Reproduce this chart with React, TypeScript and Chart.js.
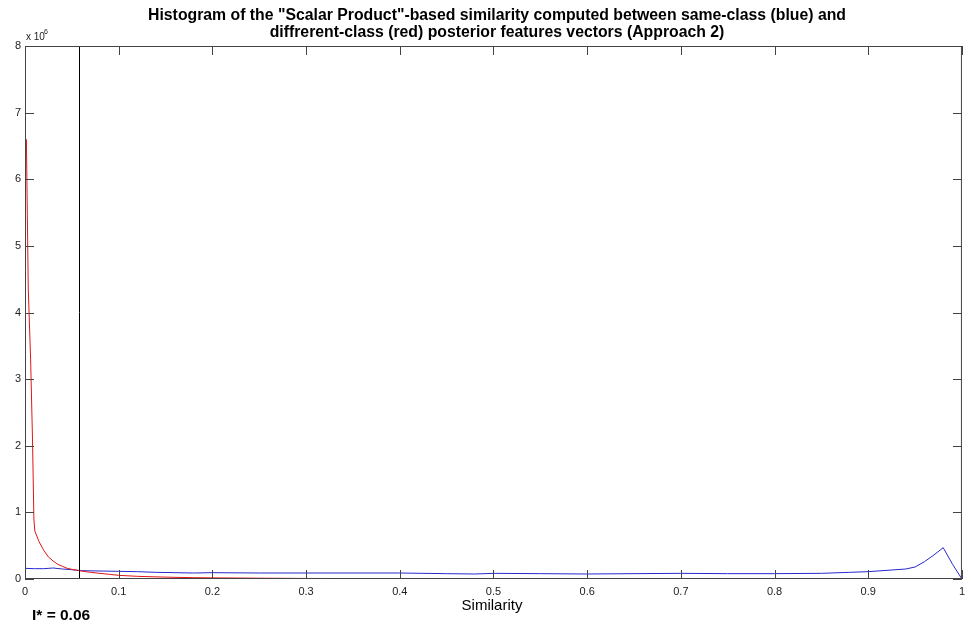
import React, { useEffect, useRef } from "react";
import { Chart, registerables } from "chart.js";

Chart.register(...registerables);

// Similarity bin positions and histogram counts (in units of 10^6)
const diffClassX = [
  0.0015, 0.0025, 0.0035, 0.006, 0.008, 0.0095, 0.0105, 0.015, 0.02, 0.025, 0.03,
  0.035, 0.04, 0.045, 0.05, 0.06, 0.07, 0.08, 0.09, 0.1, 0.12, 0.14, 0.16, 0.18,
  0.2, 0.25, 0.3, 0.4, 0.5, 0.6, 0.7, 0.8, 0.9, 0.95, 1.0,
];
const diffClassCounts = [
  6.6, 5.45, 4.35, 3.3, 2.1, 0.9, 0.72, 0.56, 0.43, 0.33, 0.27, 0.22, 0.19, 0.16,
  0.145, 0.12, 0.1, 0.085, 0.07, 0.055, 0.04, 0.032, 0.025, 0.02, 0.017, 0.012,
  0.008, 0.006, 0.006, 0.005, 0.005, 0.005, 0.005, 0.005, 0.0,
];

const sameClassX = [
  0, 0.01, 0.02, 0.03, 0.04, 0.05, 0.06, 0.08, 0.1, 0.12, 0.14, 0.16, 0.18, 0.2,
  0.25, 0.3, 0.35, 0.4, 0.45, 0.48, 0.5, 0.55, 0.6, 0.65, 0.7, 0.75, 0.8, 0.85,
  0.88, 0.9, 0.92, 0.94, 0.95, 0.96, 0.97, 0.98, 0.99, 1.0,
];
const sameClassCounts = [
  0.16, 0.155, 0.155, 0.165, 0.15, 0.14, 0.125, 0.12, 0.115, 0.11, 0.1, 0.095,
  0.09, 0.095, 0.09, 0.09, 0.09, 0.09, 0.08, 0.075, 0.085, 0.08, 0.075, 0.08,
  0.085, 0.08, 0.08, 0.085, 0.1, 0.11, 0.13, 0.15, 0.18, 0.26, 0.36, 0.47, 0.22,
  0.0,
];

const similarityTicks = [0, 0.1, 0.2, 0.3, 0.4, 0.5, 0.6, 0.7, 0.8, 0.9, 1];
const countTicks = [0, 1, 2, 3, 4, 5, 6, 7, 8];

const THRESHOLD = 0.0575;

const TITLE_LINES = [
  'Histogram of the "Scalar Product"-based similarity computed between same-class (blue) and',
  "diffrerent-class (red) posterior features vectors (Approach 2)",
];
const X_LABEL = "Similarity";

const FONT = "'Liberation Sans', Arial, sans-serif";
const AXIS_COLOR = "#444";
const TICK_LEN = 9;

const fmtTick = (v: number) => Number(v.toFixed(1)).toString();

const decorations = {
  id: "matlabDecorations",
  afterDatasetsDraw(chart: any) {
    const { ctx, chartArea, scales } = chart;
    const x = Math.round(scales.x.getPixelForValue(THRESHOLD)) + 0.5;
    ctx.save();
    ctx.strokeStyle = "#000";
    ctx.lineWidth = 1;
    ctx.beginPath();
    ctx.moveTo(x, chartArea.top);
    ctx.lineTo(x, chartArea.bottom);
    ctx.stroke();
    ctx.restore();
  },
  afterDraw(chart: any) {
    const { ctx, chartArea, scales } = chart;
    const { left, right, top, bottom } = chartArea;
    ctx.save();
    ctx.strokeStyle = AXIS_COLOR;
    ctx.lineWidth = 1;
    ctx.strokeRect(left + 0.5, top + 0.5, right - left - 1, bottom - top - 1);

    ctx.beginPath();
    similarityTicks.forEach((v) => {
      const px = Math.round(scales.x.getPixelForValue(v)) + 0.5;
      ctx.moveTo(px, bottom);
      ctx.lineTo(px, bottom - TICK_LEN);
      ctx.moveTo(px, top);
      ctx.lineTo(px, top + TICK_LEN);
    });
    countTicks.forEach((v) => {
      const py = Math.round(scales.y.getPixelForValue(v)) + 0.5;
      ctx.moveTo(left, py);
      ctx.lineTo(left + TICK_LEN, py);
      ctx.moveTo(right, py);
      ctx.lineTo(right - TICK_LEN, py);
    });
    ctx.stroke();

    // Title
    ctx.fillStyle = "#000";
    ctx.textAlign = "center";
    ctx.textBaseline = "alphabetic";
    ctx.font = `bold 15.8px ${FONT}`;
    const cx = 497;
    ctx.fillText(TITLE_LINES[0], cx, 20);
    ctx.fillText(TITLE_LINES[1], cx, 37);

    // Axis label
    ctx.font = `15px ${FONT}`;
    ctx.fillText(X_LABEL, 492, 610);

    // Threshold annotation
    ctx.textAlign = "left";
    ctx.font = `bold 15.5px ${FONT}`;
    ctx.fillText(`I* = ${THRESHOLD.toFixed(2)}`, 32, 620);

    // Exponent of the count axis
    ctx.fillStyle = "#222";
    ctx.font = `10px ${FONT}`;
    ctx.fillText("x 10", left + 1, 40);
    ctx.font = `7px ${FONT}`;
    ctx.fillText("6", left + 19, 34);
    ctx.restore();
  },
};

export default function App() {
  const ref = useRef<HTMLCanvasElement | null>(null);

  useEffect(() => {
    document.body.style.margin = "0";
    const canvas = ref.current;
    if (!canvas) return;
    const chart = new Chart(canvas, {
      type: "line",
      data: {
        datasets: [
          {
            label: "different-class",
            data: diffClassX.map((x, i) => ({ x, y: diffClassCounts[i] })),
            borderColor: "rgb(225, 20, 20)",
            borderWidth: 1,
            pointRadius: 0,
            tension: 0,
            fill: false,
          },
          {
            label: "same-class",
            data: sameClassX.map((x, i) => ({ x, y: sameClassCounts[i] })),
            borderColor: "rgb(40, 40, 205)",
            borderWidth: 1,
            pointRadius: 0,
            tension: 0,
            fill: false,
          },
        ],
      },
      options: {
        responsive: false,
        animation: false,
        devicePixelRatio: 1,
        layout: { padding: { top: 46, right: 9, left: 0, bottom: 0 } },
        plugins: {
          legend: { display: false },
          title: { display: false },
          tooltip: { enabled: false },
        },
        scales: {
          x: {
            type: "linear",
            min: 0,
            max: 1,
            grid: { display: false, drawTicks: false },
            border: { display: false },
            afterBuildTicks: (s: any) => {
              s.ticks = similarityTicks.map((value) => ({ value }));
            },
            ticks: {
              autoSkip: false,
              maxRotation: 0,
              padding: 6,
              color: "#222",
              font: { family: FONT, size: 11 },
              callback: (v: any) => fmtTick(Number(v)),
            },
            afterFit: (s: any) => {
              s.height = 46;
            },
          },
          y: {
            type: "linear",
            min: 0,
            max: 8,
            grid: { display: false, drawTicks: false },
            border: { display: false },
            afterBuildTicks: (s: any) => {
              s.ticks = countTicks.map((value) => ({ value }));
            },
            ticks: {
              padding: 4,
              color: "#222",
              font: { family: FONT, size: 11 },
              callback: (v: any) => String(v),
            },
            afterFit: (s: any) => {
              s.width = 25;
            },
          },
        },
      },
      plugins: [decorations],
    });
    return () => chart.destroy();
  }, []);

  return (
    <canvas
      ref={ref}
      width={971}
      height={625}
      style={{ display: "block", width: 971, height: 625 }}
    />
  );
}
